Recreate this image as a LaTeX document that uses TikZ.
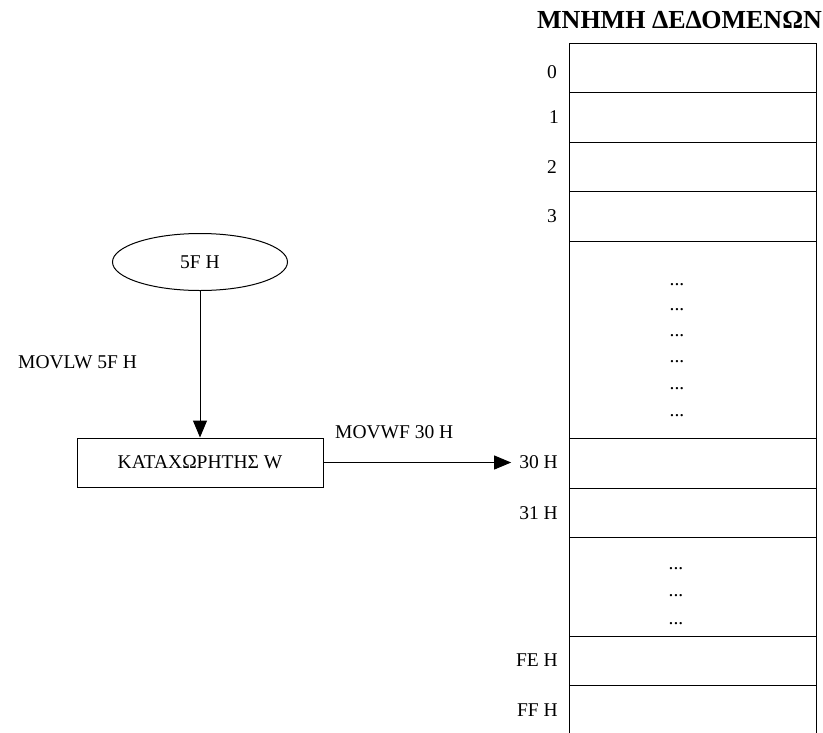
\documentclass[tikz,border=0pt]{standalone}
\usepackage{fontspec}
\setmainfont{Liberation Serif}
\usetikzlibrary{arrows.meta,shapes.geometric}
\begin{document}
\begin{tikzpicture}[x=1pt,y=-1pt,
  txt/.style={font=\fontsize{19.5}{23}\selectfont, inner sep=0pt},
  cell/.style={draw, line width=1pt, minimum width=247pt, inner sep=0pt, anchor=north west},
  addr/.style={txt, anchor=east},
  dots/.style={txt},
  flow/.style={line width=1pt, -{Triangle[length=17pt,width=14pt]}}]
\useasboundingbox (0,0) rectangle (823,732);

% title of the memory
\node[font=\fontsize{26}{31}\selectfont\bfseries, inner sep=0pt] (title) at (679.5,20) {ΜΝΗΜΗ ΔΕΔΟΜΕΝΩΝ};

% memory cells
\node[cell, minimum height=49pt] (c0) at (569,43) {};
\node[cell, minimum height=50pt] (c1) at (569,92) {};
\node[cell, minimum height=49pt] (c2) at (569,142) {};
\node[cell, minimum height=50pt] (c3) at (569,191) {};
\node[cell, minimum height=197pt] (cgap1) at (569,241) {};
\node[cell, minimum height=50pt] (c30) at (569,438) {};
\node[cell, minimum height=49pt] (c31) at (569,488) {};
\node[cell, minimum height=99pt] (cgap2) at (569,537) {};
\node[cell, minimum height=49pt] (cFE) at (569,636) {};
% last cell runs past the lower edge
\coordinate (ffl) at (569,685);
\coordinate (ffr) at (816,685);
\coordinate (ffbl) at (569,740);
\coordinate (ffbr) at (816,740);
\draw[line width=1pt] (ffbl) -- (ffl) -- (ffr) -- (ffbr);

% addresses
\node[addr] (a0) at (557,72) {0};
\node[addr] (a1) at (559,117) {1};
\node[addr] (a2) at (557,167) {2};
\node[addr] (a3) at (557,216) {3};
\node[addr] (a30) at (558,462.5) {30 H};
\node[addr] (a31) at (558,513) {31 H};
\node[addr] (aFE) at (558,660) {FE H};
\node[addr] (aFF) at (558,710) {FF H};

% omitted cells
\node[dots] (d1) at (677,285) {...};
\node[dots] (d2) at (677,310) {...};
\node[dots] (d3) at (677,336) {...};
\node[dots] (d4) at (677,362) {...};
\node[dots] (d5) at (677,389) {...};
\node[dots] (d6) at (677,416) {...};
\node[dots] (d7) at (676,569) {...};
\node[dots] (d8) at (676,596) {...};
\node[dots] (d9) at (676,624) {...};

% constant and working register
\node[txt, draw, line width=1pt, ellipse, minimum width=175pt, minimum height=57pt] (k) at (200,262) {5F H};
\node[txt, draw, line width=1pt, minimum width=246pt, minimum height=49pt] (w) at (200,462.5) {ΚΑΤΑΧΩΡΗΤΗΣ W};

% instructions
\draw[flow] (k.south) -- (w.north);
\node[txt, anchor=west] (movlw) at (18,362) {MOVLW 5F H};
\draw[flow] (w.east) -- ([xshift=-8pt]a30.west);
\node[txt, anchor=west] (movwf) at (335,432) {MOVWF 30 H};
\end{tikzpicture}
\end{document}
